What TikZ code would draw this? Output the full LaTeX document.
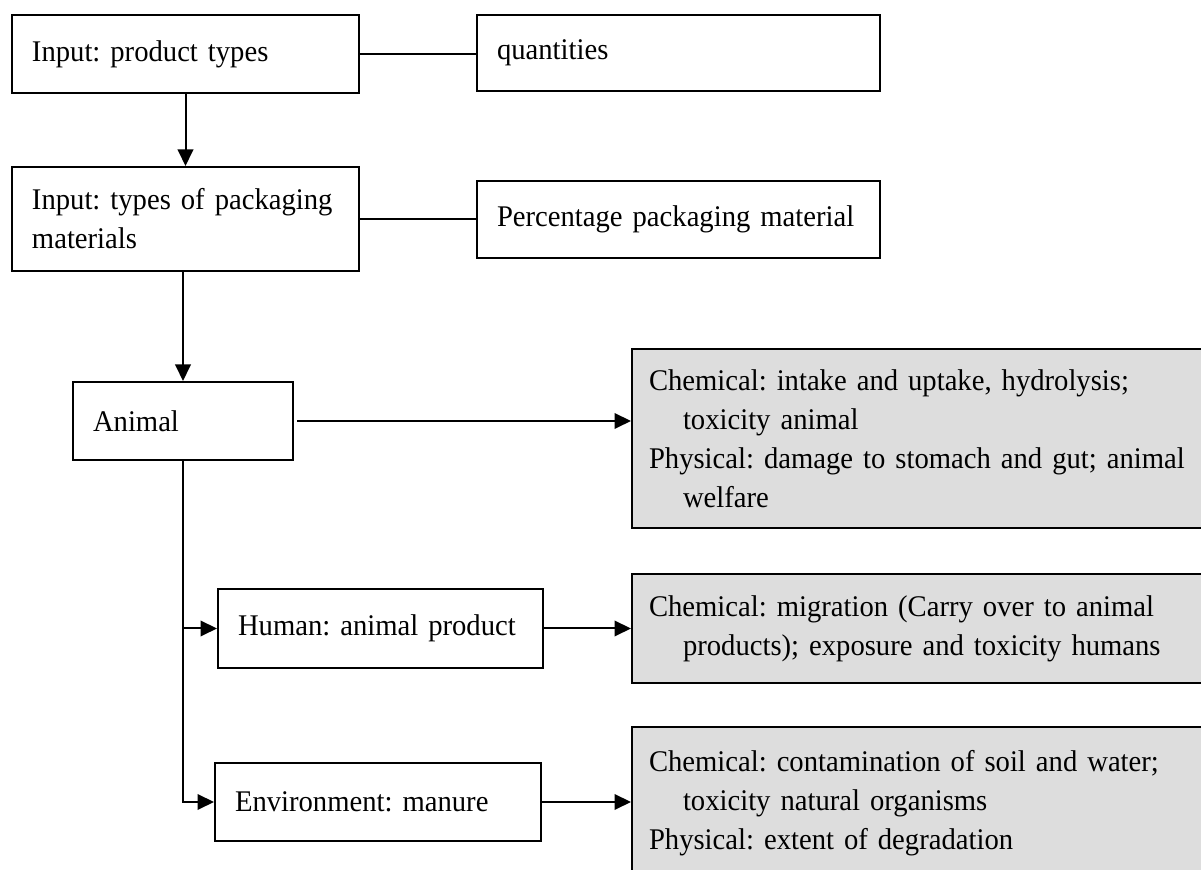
\documentclass[tikz,border=0pt]{standalone}
\usepackage{fontspec}
\setmainfont[FakeStretch=0.955]{Liberation Serif}
\usetikzlibrary{arrows.meta}
\definecolor{shade}{HTML}{DDDDDD}
\frenchspacing

\begin{document}
\begin{tikzpicture}[x=0.4pt, y=-0.4pt,
		box/.style={draw, line width=0.8pt, anchor=north west, align=left, inner xsep=8pt, inner ysep=0pt, font=\fontsize{12}{15.6}\selectfont\frenchspacing},
		effect/.style={box, fill=shade, inner xsep=6.8pt, text width=222pt},
		link/.style={line width=0.8pt},
		flow/.style={link, -{Triangle[length=6.6pt, width=6.2pt]}}]
		\useasboundingbox (0,0) rectangle (1201,870);
		\clip (0,0) rectangle (1201,870);
		% inputs
		\node[box, text width=122.8pt, minimum height=31.2pt] (prod) at (11,14) {Input: product types};
		\node[box, text width=145.2pt, minimum height=30.4pt] (qty) at (476,14) {quantities};
		\node[box, text width=122.8pt, minimum height=41.6pt] (pack) at (11,166) {Input: types of packaging\\materials};
		\node[box, text width=145.2pt, minimum height=30.8pt] (perc) at (476,180) {Percentage packaging material};
		% receivers
		\node[box, text width=72pt, minimum height=31.2pt] (animal) at (72,381) {Animal};
		\node[box, text width=114pt, minimum height=31.6pt] (human) at (217,588) {Human: animal product};
		\node[box, text width=114.4pt, minimum height=31.2pt] (env) at (214,762) {Environment: manure};
		% effects
		\node[effect, minimum height=71.6pt] (effanimal) at (631,348) {Chemical: intake and uptake, hydrolysis;\\\hspace*{13.6pt}toxicity animal\\Physical: damage to stomach and gut; animal\\\hspace*{13.6pt}welfare};
		\node[effect, minimum height=43.6pt] (effhuman) at (631,573) {Chemical: migration (Carry over to animal\\\hspace*{13.6pt}products); exposure and toxicity humans};
		\node[effect, minimum height=60.8pt] (effenv) at (631,726) {Chemical: contamination of soil and water;\\\hspace*{13.6pt}toxicity natural organisms\\Physical: extent of degradation};
		% connectors
		\draw[link] (prod.east) -- (prod.east -| qty.west);
		\draw[link] (pack.east) -- (pack.east -| perc.west);
		\draw[flow] (prod.south) -- (pack.north);
		\draw[flow] (pack.south -| animal.north) -- (animal.north);
		\draw[flow] ([xshift=1.2pt]animal.east) -- (animal.east -| effanimal.west);
		\draw[flow] (animal.south) |- (human.west);
		\draw[flow] (animal.south) |- (env.west);
		\draw[flow] (human.east) -- (human.east -| effhuman.west);
		\draw[flow] (env.east) -- (env.east -| effenv.west);
	\end{tikzpicture}
\end{document}
